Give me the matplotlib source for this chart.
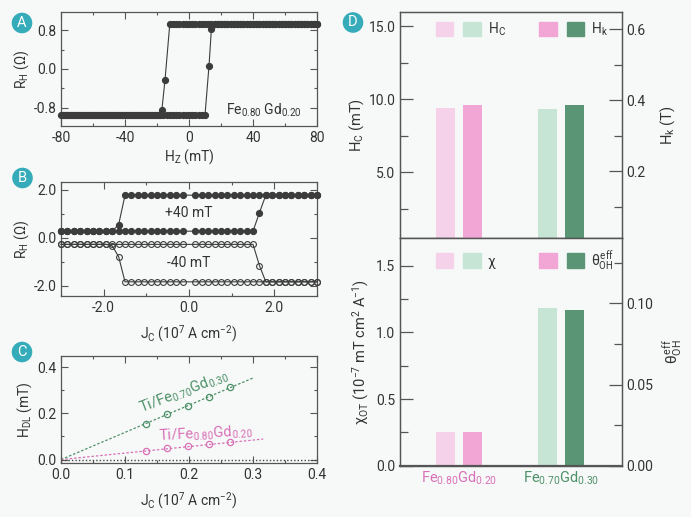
import numpy as np
import matplotlib
matplotlib.use("Agg")
import matplotlib.pyplot as plt
from matplotlib.patches import Patch, Circle
from matplotlib.legend_handler import HandlerTuple
from matplotlib.ticker import MultipleLocator, FormatStrFormatter

plt.rcParams['font.family'] = ['Roboto', 'DejaVu Sans']
plt.rcParams['mathtext.fontset'] = 'custom'
plt.rcParams['mathtext.rm'] = 'Roboto'
plt.rcParams['mathtext.it'] = 'Roboto'
plt.rcParams['mathtext.bf'] = 'Roboto:bold'
plt.rcParams['axes.unicode_minus'] = False

# ---------------- data ----------------
# Panel A: Hall loop of Fe0.80Gd0.20
A_step = 2
A_low, A_high = -0.94, 0.93
A_up_switch_H = [12.5, 14.0]
A_up_switch_R = [0.07, 0.83]
A_dn_switch_H = [-15.0, -17.0]
A_dn_switch_R = [-0.22, -0.85]

# Panel B: current-induced switching loops
B_step = 0.15
B_p40_low, B_p40_high = 0.28, 1.78
B_p40_up_switch = (1.65, 1.05)
B_p40_dn_switch = (-1.65, 0.55)
B_m40_high, B_m40_low = -0.27, -1.83
B_m40_up_switch = (1.65, -1.15)
B_m40_dn_switch = [(-1.65, -0.78), (-1.8, -0.33)]

# Panel C: damping-like field vs current density
C_J = [0.132, 0.165, 0.198, 0.231, 0.264]
C_H_70 = [0.155, 0.196, 0.234, 0.271, 0.315]
C_H_80 = [0.039, 0.049, 0.057, 0.068, 0.077]
C_fit70_x = [0.0, 0.302]
C_fit70_y = [0.0, 0.356]
C_fit80_x = [0.0, 0.316]
C_fit80_y = [0.0, 0.089]

# Panel D
D_samples = ['Fe$_{0.80}$Gd$_{0.20}$', 'Fe$_{0.70}$Gd$_{0.30}$']
D_Hc = [9.39, 9.34]          # mT
D_Hk = [0.385, 0.385]        # T
D_chi = [0.253, 1.18]        # 1e-7 mT cm2 A-1
D_theta = [0.0207, 0.0959]

# ---------------- colours ----------------
bg = '#f6f9f8'
dark = '#3c3c3c'
green = '#4e9068'
pink = '#d970b8'
light_pink = '#f5d2ea'
mid_pink = '#f2a6d6'
light_green = '#c7e5d5'
dark_green = '#5a9675'
teal = '#36abb9'
spine_c = '#555555'
txt = '#333333'

fig = plt.figure(figsize=(6.91, 5.17), dpi=100, facecolor=bg)

def style_small(ax):
    ax.set_facecolor(bg)
    for s in ax.spines.values():
        s.set_color(spine_c)
        s.set_linewidth(0.9)
    ax.tick_params(which='both', direction='in', top=True, right=True,
                   colors=spine_c, labelcolor=txt, labelsize=10, width=0.8)
    ax.tick_params(which='major', length=5)
    ax.tick_params(which='minor', length=2.5)

# ---------- Panel A ----------
axA = fig.add_axes([0.0883, 0.7563, 0.3705, 0.2205])
style_small(axA)
H_up = list(np.arange(-80, 11, A_step)) + A_up_switch_H + list(np.arange(16, 81, A_step))
R_up = [A_low] * len(np.arange(-80, 11, A_step)) + A_up_switch_R + [A_high] * len(np.arange(16, 81, A_step))
H_dn = list(np.arange(80, -13, -A_step)) + A_dn_switch_H + list(np.arange(-19, -81, -A_step))
R_dn = [A_high] * len(np.arange(80, -13, -A_step)) + A_dn_switch_R + [A_low] * len(np.arange(-19, -81, -A_step))
for H, R in ((H_up, R_up), (H_dn, R_dn)):
    axA.plot(H, R, color=dark, lw=0.8, marker='o', ms=4.2, mfc=dark, mec=dark, clip_on=False, zorder=3)
axA.set_xlim(-80, 80)
axA.set_ylim(-1.17, 1.17)
axA.xaxis.set_major_locator(MultipleLocator(40))
axA.xaxis.set_minor_locator(MultipleLocator(20))
axA.yaxis.set_major_locator(MultipleLocator(0.8))
axA.yaxis.set_minor_locator(MultipleLocator(0.4))
axA.yaxis.set_major_formatter(FormatStrFormatter('%.1f'))
axA.set_xlabel('H$_Z$ (mT)', fontsize=10, color=txt, labelpad=2)
axA.set_ylabel('R$_H$ (Ω)', fontsize=10, color=txt, labelpad=2)
axA.text(0.94, 0.14, 'Fe$_{0.80}$ Gd$_{0.20}$', transform=axA.transAxes,
         ha='right', va='center', fontsize=10, color=txt)

# ---------- Panel B ----------
axB = fig.add_axes([0.0883, 0.4275, 0.3705, 0.2205])
style_small(axB)
grid_f = np.round(np.arange(-3.0, 3.0001, B_step), 3)
grid_f = grid_f[np.abs(grid_f) > 1e-6]

def branch(grid, sw, before, after, increasing):
    xs, ys = [], []
    for j in grid:
        if abs(j - sw[0]) < 1e-6:
            xs.append(j); ys.append(sw[1])
        elif (j < sw[0]) == increasing:
            xs.append(j); ys.append(before)
        else:
            xs.append(j); ys.append(after)
    return xs, ys

# +40 mT
x1, y1 = branch(grid_f, B_p40_up_switch, B_p40_low, B_p40_high, True)
x2, y2 = branch(grid_f[::-1], B_p40_dn_switch, B_p40_high, B_p40_low, False)
for xs, ys in ((x1, y1), (x2, y2)):
    axB.plot(xs, ys, color=dark, lw=0.8, marker='o', ms=4.2, mfc=dark, mec=dark, clip_on=False, zorder=3)
# -40 mT
x3, y3 = branch(grid_f, B_m40_up_switch, B_m40_high, B_m40_low, True)
x4, y4 = branch(grid_f[::-1], B_m40_dn_switch[0], B_m40_low, B_m40_high, False)
for k, jj in enumerate(x4):
    if abs(jj - B_m40_dn_switch[1][0]) < 1e-6:
        y4[k] = B_m40_dn_switch[1][1]
for xs, ys in ((x3, y3), (x4, y4)):
    axB.plot(xs, ys, color=dark, lw=0.8, marker='o', ms=4.2, mfc='none', mec=dark, mew=0.8, clip_on=False, zorder=3)
axB.set_xlim(-3, 3)
axB.set_ylim(-2.42, 2.33)
axB.xaxis.set_major_locator(MultipleLocator(2))
axB.xaxis.set_minor_locator(MultipleLocator(1))
axB.yaxis.set_major_locator(MultipleLocator(2))
axB.yaxis.set_minor_locator(MultipleLocator(1))
axB.xaxis.set_major_formatter(FormatStrFormatter('%.1f'))
axB.yaxis.set_major_formatter(FormatStrFormatter('%.1f'))
axB.text(0.0, 1.02, '+40 mT', ha='center', va='center', fontsize=10, color=txt)
axB.text(0.0, -1.05, '-40 mT', ha='center', va='center', fontsize=10, color=txt)
axB.set_xlabel('J$_C$ (10$^7$ A cm$^{-2}$)', fontsize=10, color=txt, labelpad=6)
axB.set_ylabel('R$_H$ (Ω)', fontsize=10, color=txt, labelpad=2)

# ---------- Panel C ----------
axC = fig.add_axes([0.0883, 0.1044, 0.3705, 0.2075])
style_small(axC)
axC.plot([0, 0.4], [0, 0], color='#444444', lw=1.0, ls=(0, (1, 1.5)), zorder=2)
axC.plot(C_fit70_x, C_fit70_y, color=green, lw=0.9, ls=(0, (2, 1.5)), zorder=2)
axC.plot(C_fit80_x, C_fit80_y, color=pink, lw=0.9, ls=(0, (2, 1.5)), zorder=2)
axC.plot(C_J, C_H_70, ls='none', marker='o', ms=4.5, mfc='none', mec=green, mew=0.9, zorder=3)
axC.plot(C_J, C_H_80, ls='none', marker='o', ms=4.5, mfc='none', mec=pink, mew=0.9, zorder=3)
axC.set_xlim(0, 0.4)
axC.set_ylim(-0.015, 0.45)
axC.xaxis.set_major_locator(MultipleLocator(0.1))
axC.xaxis.set_minor_locator(MultipleLocator(0.05))
axC.yaxis.set_major_locator(MultipleLocator(0.2))
axC.yaxis.set_minor_locator(MultipleLocator(0.1))
axC.xaxis.set_major_formatter(FormatStrFormatter('%.1f'))
axC.yaxis.set_major_formatter(FormatStrFormatter('%.1f'))
axC.text(0.126, 0.203, 'Ti/Fe$_{0.70}$Gd$_{0.30}$', rotation=21, ha='left', va='baseline',
         fontsize=10.5, color=green, rotation_mode='anchor')
axC.text(0.152, 0.082, 'Ti/Fe$_{0.80}$Gd$_{0.20}$', rotation=3, ha='left', va='baseline',
         fontsize=10.5, color=pink, rotation_mode='anchor')
axC.set_xlabel('J$_C$ (10$^7$ A cm$^{-2}$)', fontsize=10, color=txt, labelpad=6)
axC.set_ylabel('H$_{DL}$ (mT)', fontsize=10, color=txt, labelpad=2)

# ---------- Panel D ----------
xpos = np.arange(len(D_samples))
bw = 0.19
off = 0.134

def style_big(ax):
    ax.set_facecolor(bg)
    for s in ax.spines.values():
        s.set_color(spine_c)
        s.set_linewidth(0.9)
    ax.tick_params(which='both', direction='in', colors=spine_c, labelcolor=txt,
                   labelsize=10, width=0.9)
    ax.tick_params(which='major', length=9.5)
    ax.tick_params(which='minor', length=5.5)
    ax.tick_params(axis='x', length=0)

axD1 = fig.add_axes([0.5793, 0.5391, 0.3204, 0.4383])
style_big(axD1)
axD1.bar(xpos - off, D_Hc, width=bw, color=[light_pink, light_green], zorder=2)
axD1.set_xlim(-0.575, 1.596)
axD1.set_ylim(0.5, 16.0)
axD1.yaxis.set_major_locator(MultipleLocator(5))
axD1.yaxis.set_minor_locator(MultipleLocator(2.5))
axD1.yaxis.set_major_formatter(FormatStrFormatter('%.1f'))
axD1.set_xticks([])
axD1.set_ylabel('H$_C$ (mT)', fontsize=10.5, color=txt, labelpad=2)
axD1r = axD1.twinx()
style_big(axD1r)
axD1r.bar(xpos + off, D_Hk, width=bw, color=[mid_pink, dark_green], zorder=2)
axD1r.set_ylim(0.011, 0.649)
axD1r.yaxis.set_major_locator(MultipleLocator(0.2))
axD1r.yaxis.set_minor_locator(MultipleLocator(0.1))
axD1r.yaxis.set_major_formatter(FormatStrFormatter('%.1f'))
axD1r.set_ylabel('H$_k$ (T)', fontsize=10.5, color=txt, labelpad=9)
axD1r.set_xticks([])

axD2 = fig.add_axes([0.5793, 0.0992, 0.3204, 0.4398])
style_big(axD2)
axD2.bar(xpos - off, D_chi, width=bw, color=[light_pink, light_green], zorder=2)
axD2.set_xlim(-0.575, 1.596)
axD2.set_ylim(0, 1.705)
axD2.yaxis.set_major_locator(MultipleLocator(0.5))
axD2.yaxis.set_minor_locator(MultipleLocator(0.25))
axD2.yaxis.set_major_formatter(FormatStrFormatter('%.1f'))
axD2.set_xticks(xpos)
axD2.set_xticklabels(D_samples, fontsize=10.5)
for lab, c in zip(axD2.get_xticklabels(), [pink, green]):
    lab.set_color(c)
axD2.tick_params(axis='x', pad=3)
axD2.set_ylabel('χ$_{OT}$ (10$^{-7}$ mT cm$^2$ A$^{-1}$)', fontsize=10.5, color=txt, labelpad=4)
axD2r = axD2.twinx()
style_big(axD2r)
axD2r.bar(xpos + off, D_theta, width=bw, color=[mid_pink, dark_green], zorder=2)
axD2r.set_ylim(0, 0.14)
axD2r.yaxis.set_major_locator(MultipleLocator(0.05))
axD2r.yaxis.set_minor_locator(MultipleLocator(0.025))
axD2r.yaxis.set_major_formatter(FormatStrFormatter('%.2f'))
axD2r.set_ylabel(r'$\theta^{eff}_{OH}$', fontsize=11, color=txt, labelpad=6)
axD2r.spines['bottom'].set_linewidth(1.6)

def legend2(ax, l1, l2, ytop, colsp):
    h1 = (Patch(color=light_pink), Patch(color=light_green))
    h2 = (Patch(color=mid_pink), Patch(color=dark_green))
    ax.legend([h1, h2], [l1, l2], handler_map={tuple: HandlerTuple(ndivide=None, pad=0.72)},
              loc='upper left', bbox_to_anchor=(0.161, ytop), ncol=2, frameon=False,
              handlelength=3.24, handleheight=1.26, handletextpad=0.5, columnspacing=colsp,
              fontsize=10, borderaxespad=0, borderpad=0, labelcolor=txt)

legend2(axD1r, 'H$_C$', 'H$_k$', 0.96, 2.42)
legend2(axD2r, 'χ', r'$\theta^{eff}_{OH}$', 0.953, 3.15)

# ---------- panel letters ----------
def letter(xp, yp, s):
    xf, yf = xp / 691, 1 - yp / 517
    fig.patches.append(Circle((xf * 691, yf * 517), 10.3, transform=None,
                              facecolor=teal, edgecolor='none', zorder=10))
    fig.text(xf, yf, s, ha='center', va='center', color='white', fontsize=10.5, zorder=11)

letter(22, 23, 'A')
letter(22.5, 178, 'B')
letter(22, 352, 'C')
letter(353, 22.5, 'D')

fig.savefig('out.png', dpi=100, facecolor=bg)
